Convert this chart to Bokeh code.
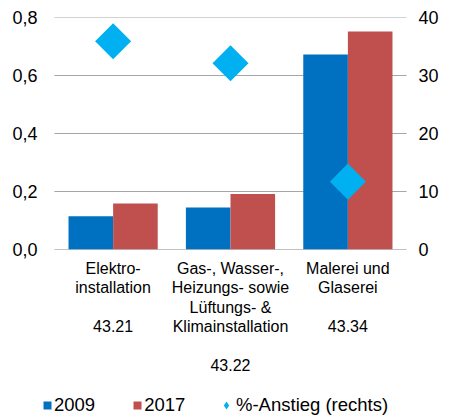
from bokeh.plotting import figure
from bokeh.models import (FactorRange, Range1d, LinearAxis, FixedTicker, Legend, LegendItem,
                          ColumnDataSource)
from bokeh.layouts import column
from bokeh.transform import dodge
from bokeh.embed import file_html
from bokeh.resources import INLINE
import math

categories = ["Elektro-\ninstallation\n\n43.21",
              "Gas-, Wasser-,\nHeizungs- sowie\nLüftungs- &\nKlimainstallation\n\n43.22",
              "Malerei und\nGlaserei\n\n43.34"]
values_2009 = [0.115, 0.145, 0.672]
values_2017 = [0.159, 0.191, 0.752]
pct_increase = [35.9, 32.1, 11.7]
left_ticks = [0.0, 0.2, 0.4, 0.6, 0.8]
left_tick_labels = ["0,0", "0,2", "0,4", "0,6", "0,8"]
right_ticks = [0, 10, 20, 30, 40]
series_names = ["2009", "2017", "%-Anstieg (rechts)"]

BLUE, RED, CYAN = "#0070C0", "#C0504D", "#00B0F0"
GRID, BASE = "#a6a6a6", "#868686"
FONT = "Liberation Sans"

src = ColumnDataSource(dict(cat=categories, v09=values_2009, v17=values_2017, pct=pct_increase))

xr = FactorRange(*categories, range_padding=0.1017, range_padding_units="absolute")
p = figure(x_range=xr, y_range=Range1d(0, 0.8),
           width=441, height=380, output_backend="svg", toolbar_location=None,
           min_border_left=42, min_border_right=21, min_border_top=17, min_border_bottom=131)
p.outline_line_color = None
p.extra_y_ranges = {"pct": Range1d(0, 40)}
p.xgrid.grid_line_color = None
p.ygrid.grid_line_color = None

# horizontal grid lines spanning exactly the category area
gsrc = ColumnDataSource(dict(y=left_ticks,
                             c0=[categories[0]] * len(left_ticks),
                             c1=[categories[-1]] * len(left_ticks),
                             col=[BASE if t == 0 else GRID for t in left_ticks]))
p.segment(x0=dodge("c0", -0.5, range=xr), x1=dodge("c1", 0.5, range=xr), y0="y", y1="y",
          line_color="col", line_width=1, source=gsrc)

p.vbar(x=dodge("cat", -0.19, range=xr), top="v09", width=0.38, source=src,
       fill_color=BLUE, line_color=None)
p.vbar(x=dodge("cat", 0.19, range=xr), top="v17", width=0.38, source=src,
       fill_color=RED, line_color=None)
p.scatter(x="cat", y="pct", source=src, y_range_name="pct", marker="square",
          size=25.5, angle=math.pi / 4, fill_color=CYAN, line_color=None)

la = p.yaxis[0]
la.ticker = FixedTicker(ticks=left_ticks)
la.major_label_overrides = {t: l for t, l in zip(left_ticks, left_tick_labels)}
ra = LinearAxis(y_range_name="pct", ticker=FixedTicker(ticks=right_ticks))
p.add_layout(ra, "right")
for ax, st in ((la, 5), (ra, 0)):
    ax.axis_line_color = None
    ax.major_tick_line_color = None
    ax.minor_tick_line_color = None
    ax.major_tick_out = 0
    ax.major_tick_in = 0
    ax.major_label_standoff = st
    ax.major_label_text_font = FONT
    ax.major_label_text_font_size = "18px"
    ax.major_label_text_color = "#000000"

xa = p.xaxis[0]
xa.axis_line_color = None
xa.major_tick_line_color = None
xa.major_tick_out = 0
xa.major_tick_in = 0
xa.major_label_standoff = 10
xa.major_label_text_font = FONT
xa.major_label_text_font_size = "16px"
xa.major_label_text_line_height = 1.15
xa.major_label_text_color = "#000000"
xa.major_label_orientation = "horizontal"

# legend strip (its frame is aligned with the chart frame by the column layout)
lf = figure(width=441, height=37, output_backend="svg", toolbar_location=None,
            x_range=Range1d(0, 441), y_range=Range1d(0, 37),
            min_border=0, x_axis_location=None, y_axis_location=None)
lf.outline_line_color = None
lf.grid.grid_line_color = None
proxy = ColumnDataSource(dict(x=pct_increase, y=pct_increase))
l09 = lf.vbar(x="x", top="y", width=0, source=proxy, fill_color=BLUE, line_color=None)
l17 = lf.vbar(x="x", top="y", width=0, source=proxy, fill_color=RED, line_color=None)
lpc = lf.scatter(x="x", y="y", size=0, source=proxy, marker="diamond",
                 fill_color=CYAN, line_color=None)

common = dict(orientation="horizontal", padding=0, margin=0, border_line_color=None,
              background_fill_alpha=0, label_text_font=FONT, label_text_font_size="18.5px",
              label_text_color="#000000")
leg1 = Legend(items=[LegendItem(label=series_names[0], renderers=[l09]),
                     LegendItem(label=series_names[1], renderers=[l17])],
              location=(0, 1.5), glyph_width=10, glyph_height=10, label_standoff=2,
              spacing=37, **common)
leg2 = Legend(items=[LegendItem(label=series_names[2], renderers=[lpc])],
              location=(174, 1.5), glyph_width=20, glyph_height=20, label_standoff=0,
              **common)
lf.add_layout(leg1, "center")
lf.add_layout(leg2, "center")

layout = column(p, lf, spacing=0)
open("out.html", "w").write(file_html(layout, INLINE))
